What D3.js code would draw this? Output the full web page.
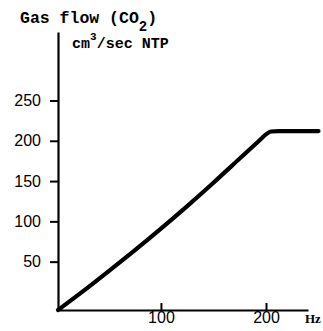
<!DOCTYPE html>
<html>
<head>
<meta charset="utf-8">
<script src="https://cdn.jsdelivr.net/npm/d3@7"></script>
<style>
  body { margin: 0; background: #fff; }
  svg { display: block; }
</style>
</head>
<body>
<div id="chart"></div>
<script>
// gas flow (CO2) vs frequency
var hz   = [2, 25, 50, 75, 100, 125, 150, 175, 195, 200, 205, 212, 250];
var flow = [-10, 12.5, 38, 64, 91, 119, 148, 178, 202, 208, 211.5, 212, 212];

var yTicks = [50, 100, 150, 200, 250];
var xTicks = [100, 200];

var svgWidth = 323;
var svgHeight = 331;

var svg = d3.select("#chart")
    .append("svg")
    .attr("width", svgWidth)
    .attr("height", svgHeight);

var x = d3.scaleLinear()
    .domain([2, 240])
    .range([58, 308]);

var y = d3.scaleLinear()
    .domain([-10, 335])
    .range([310, 32]);

var numFont = "'Liberation Sans', Arial, sans-serif";
var monoFont = "'Liberation Mono', 'DejaVu Sans Mono', monospace";

// x axis, ticks pointing up
var xAxis = svg.append("g")
    .attr("transform", `translate(0, ${y(-10)})`)
    .call(d3.axisBottom(x).tickValues(xTicks).tickSizeInner(-7).tickSizeOuter(0).tickPadding(2));

// y axis, ticks outside
var yAxis = svg.append("g")
    .attr("transform", `translate(${x(2)}, 0)`)
    .call(d3.axisLeft(y).tickValues(yTicks).tickSizeInner(8).tickSizeOuter(0).tickPadding(9));

[xAxis, yAxis].forEach(function (g) {
    g.select(".domain").attr("stroke", "#000").attr("stroke-width", 2.2);
    g.selectAll(".tick line").attr("stroke", "#000").attr("stroke-width", 2);
    g.selectAll(".tick text")
        .attr("fill", "#000")
        .style("font-family", numFont)
        .style("font-size", "16px");
});

// the curve
var pts = hz.map(function (h, i) { return [h, flow[i]]; });

var line = d3.line()
    .x(d => x(d[0]))
    .y(d => y(d[1]))
    .curve(d3.curveMonotoneX);

svg.append("path")
    .datum(pts)
    .attr("d", line)
    .attr("fill", "none")
    .attr("stroke", "#000")
    .attr("stroke-width", 4.2)
    .attr("stroke-linecap", "round");

// labels
var title = svg.append("text")
    .attr("x", 20)
    .attr("y", 23)
    .style("font-family", monoFont)
    .style("font-weight", "bold")
    .style("font-size", "16.5px");
title.append("tspan").text("Gas flow (CO");
title.append("tspan").attr("dy", 8).style("font-size", "14px").text("2");
title.append("tspan").attr("dy", -8).text(")");

var unit = svg.append("text")
    .attr("x", 72)
    .attr("y", 48)
    .style("font-family", monoFont)
    .style("font-weight", "bold")
    .style("font-size", "15px");
unit.append("tspan").text("cm");
unit.append("tspan").attr("dy", -8).style("font-size", "11px").text("3");
unit.append("tspan").attr("dy", 8).text("/sec NTP");

svg.append("text")
    .attr("x", 305)
    .attr("y", 323)
    .style("font-family", "'Liberation Serif', serif")
    .style("font-weight", "bold")
    .style("font-size", "13px")
    .text("Hz");
</script>
</body>
</html>
